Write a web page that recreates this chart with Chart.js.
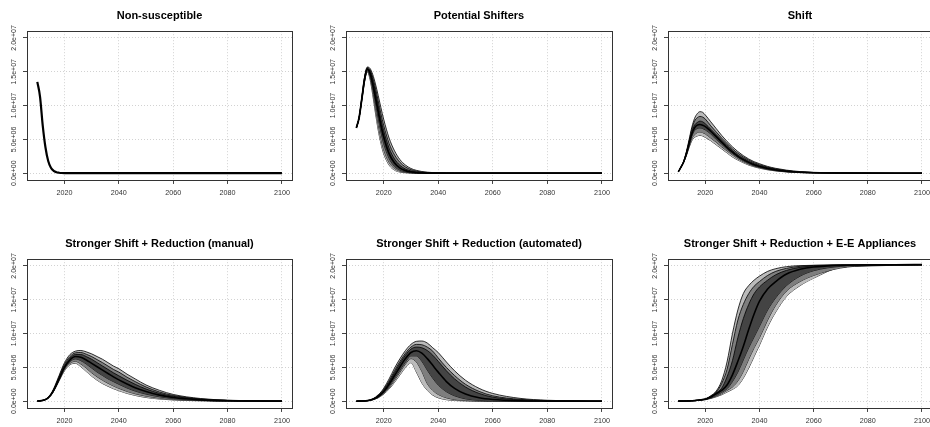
<!DOCTYPE html>
<html>
<head>
<meta charset="utf-8">
<script src="https://cdn.jsdelivr.net/npm/chart.js@4.4.0/dist/chart.umd.min.js"></script>
<style>
  html, body { margin: 0; padding: 0; background: #fff; overflow: hidden; }
  body { width: 930px; height: 427px; position: relative; }
  canvas { position: absolute; }
</style>
</head>
<body>
<canvas id="c1"></canvas>
<canvas id="c2"></canvas>
<canvas id="c3"></canvas>
<canvas id="c4"></canvas>
<canvas id="c5"></canvas>
<canvas id="c6"></canvas>
<script>
// x positions of the points (years)
const years = [2010, 2011, 2012, 2013, 2014, 2015, 2016, 2017, 2018, 2019, 2020,
  2022, 2024, 2026, 2028, 2030, 2032, 2034, 2036, 2038, 2040,
  2043, 2046, 2050, 2055, 2060, 2070, 2080, 2090, 2100];

const xTicks = [2020, 2040, 2060, 2080, 2100];
const yTicks = [0, 5e6, 1e7, 1.5e7, 2e7];
const yTickLabels = ['0.0e+00', '5.0e+06', '1.0e+07', '1.5e+07', '2.0e+07'];

const titles = ['Non-susceptible', 'Potential Shifters', 'Shift',
  'Stronger Shift + Reduction (manual)', 'Stronger Shift + Reduction (automated)',
  'Stronger Shift + Reduction + E-E Appliances'];

// all series in millions; med = median, hi/lo 1 = outer band, 2 = middle, 3 = inner

const nonSuscMed = [13.5, 11.3, 7.0, 3.8, 1.8, 0.8, 0.35, 0.15, 0.07, 0.03, 0.01,
  0, 0, 0, 0, 0, 0, 0, 0, 0, 0, 0, 0, 0, 0, 0, 0, 0, 0, 0];

const shiftersMed = [6.7, 8.2, 11.0, 13.9, 15.4, 14.8, 13.2, 11.2, 9.1, 7.1, 5.4,
  2.9, 1.5, 0.75, 0.37, 0.18, 0.09, 0.045, 0.02, 0.01, 0.005, 0, 0, 0, 0, 0, 0, 0, 0, 0];
const shiftersHi1 = [6.7, 8.2, 11.2, 14.2, 15.7, 15.5, 14.6, 13.2, 11.5, 9.7, 8.0,
  5.2, 3.3, 2.0, 1.2, 0.7, 0.42, 0.25, 0.15, 0.09, 0.05, 0.02, 0.01, 0, 0, 0, 0, 0, 0, 0];
const shiftersLo1 = [6.7, 8.2, 10.8, 13.5, 15.0, 13.9, 11.6, 8.9, 6.4, 4.4, 2.9,
  1.2, 0.45, 0.17, 0.06, 0.02, 0.01, 0, 0, 0, 0, 0, 0, 0, 0, 0, 0, 0, 0, 0];
const shiftersHi2 = [6.7, 8.2, 11.15, 14.1, 15.6, 15.3, 14.2, 12.6, 10.7, 8.8, 7.1,
  4.4, 2.7, 1.6, 0.92, 0.52, 0.3, 0.17, 0.1, 0.05, 0.03, 0.01, 0, 0, 0, 0, 0, 0, 0, 0];
const shiftersLo2 = [6.7, 8.2, 10.85, 13.6, 15.1, 14.2, 12.2, 9.6, 7.2, 5.1, 3.5,
  1.6, 0.7, 0.3, 0.12, 0.05, 0.02, 0.01, 0, 0, 0, 0, 0, 0, 0, 0, 0, 0, 0, 0];
const shiftersHi3 = [6.7, 8.2, 11.1, 14.0, 15.5, 15.1, 13.8, 12.0, 10.0, 8.0, 6.3,
  3.7, 2.1, 1.15, 0.62, 0.33, 0.18, 0.09, 0.05, 0.025, 0.01, 0, 0, 0, 0, 0, 0, 0, 0, 0];
const shiftersLo3 = [6.7, 8.2, 10.9, 13.7, 15.2, 14.5, 12.7, 10.4, 8.1, 6.1, 4.4,
  2.2, 1.0, 0.45, 0.2, 0.09, 0.04, 0.02, 0.01, 0, 0, 0, 0, 0, 0, 0, 0, 0, 0, 0];

const shiftMed = [0.2, 0.9, 1.7, 2.9, 4.4, 5.8, 6.7, 7.1, 7.2, 7.1, 6.9,
  6.2, 5.4, 4.6, 3.8, 3.1, 2.5, 2.0, 1.6, 1.25, 1.0, 0.7, 0.48, 0.28, 0.14, 0.07, 0.02, 0.005, 0, 0];
const shiftHi1 = [0.2, 0.95, 1.8, 3.2, 5.0, 6.8, 8.1, 8.8, 9.1, 9.0, 8.6,
  7.6, 6.6, 5.6, 4.7, 3.9, 3.2, 2.6, 2.1, 1.7, 1.4, 1.0, 0.72, 0.45, 0.24, 0.13, 0.04, 0.01, 0, 0];
const shiftLo1 = [0.2, 0.85, 1.6, 2.6, 3.8, 4.8, 5.3, 5.5, 5.6, 5.5, 5.3,
  4.8, 4.2, 3.6, 3.0, 2.4, 1.95, 1.55, 1.2, 0.95, 0.74, 0.5, 0.33, 0.18, 0.08, 0.04, 0.01, 0, 0, 0];
const shiftHi2 = [0.2, 0.93, 1.75, 3.1, 4.8, 6.5, 7.7, 8.2, 8.4, 8.3, 8.0,
  7.0, 6.1, 5.2, 4.4, 3.6, 2.95, 2.4, 1.95, 1.55, 1.25, 0.9, 0.63, 0.38, 0.2, 0.1, 0.03, 0.008, 0, 0];
const shiftLo2 = [0.2, 0.87, 1.63, 2.7, 4.0, 5.1, 5.7, 6.0, 6.1, 6.0, 5.8,
  5.2, 4.6, 3.9, 3.3, 2.7, 2.15, 1.7, 1.35, 1.05, 0.83, 0.57, 0.38, 0.21, 0.1, 0.05, 0.013, 0.003, 0, 0];
const shiftHi3 = [0.2, 0.91, 1.72, 3.0, 4.6, 6.1, 7.1, 7.5, 7.7, 7.6, 7.3,
  6.5, 5.7, 4.9, 4.1, 3.35, 2.7, 2.2, 1.75, 1.4, 1.12, 0.8, 0.55, 0.33, 0.17, 0.085, 0.025, 0.006, 0, 0];
const shiftLo3 = [0.2, 0.89, 1.68, 2.8, 4.2, 5.5, 6.3, 6.6, 6.7, 6.6, 6.4,
  5.8, 5.0, 4.3, 3.55, 2.9, 2.35, 1.85, 1.45, 1.15, 0.9, 0.62, 0.42, 0.24, 0.12, 0.06, 0.016, 0.004, 0, 0];

const manualMed = [0.02, 0.05, 0.12, 0.25, 0.5, 0.95, 1.6, 2.4, 3.3, 4.2, 5.0,
  6.1, 6.6, 6.5, 6.1, 5.6, 5.1, 4.6, 4.1, 3.6, 3.15, 2.55, 2.0, 1.45, 0.9, 0.55, 0.2, 0.07, 0.025, 0.01];
const manualHi1 = [0.02, 0.05, 0.13, 0.28, 0.58, 1.1, 1.85, 2.8, 3.8, 4.8, 5.7,
  6.9, 7.4, 7.5, 7.3, 7.0, 6.6, 6.2, 5.7, 5.2, 4.8, 4.0, 3.3, 2.4, 1.6, 1.0, 0.4, 0.15, 0.06, 0.02];
const manualLo1 = [0.02, 0.05, 0.11, 0.22, 0.45, 0.85, 1.45, 2.2, 3.0, 3.8, 4.5,
  5.4, 5.6, 5.1, 4.4, 3.7, 3.1, 2.6, 2.2, 1.85, 1.55, 1.15, 0.85, 0.55, 0.32, 0.18, 0.06, 0.02, 0.005, 0];
const manualHi2 = [0.02, 0.05, 0.125, 0.27, 0.55, 1.05, 1.75, 2.65, 3.6, 4.6, 5.45,
  6.6, 7.15, 7.2, 6.95, 6.6, 6.15, 5.7, 5.2, 4.7, 4.3, 3.55, 2.9, 2.1, 1.35, 0.85, 0.33, 0.12, 0.045, 0.015];
const manualLo2 = [0.02, 0.05, 0.115, 0.23, 0.47, 0.88, 1.5, 2.3, 3.1, 3.95, 4.7,
  5.6, 5.9, 5.5, 4.9, 4.2, 3.6, 3.1, 2.65, 2.25, 1.9, 1.45, 1.1, 0.75, 0.45, 0.26, 0.09, 0.03, 0.01, 0];
const manualHi3 = [0.02, 0.05, 0.12, 0.26, 0.53, 1.0, 1.68, 2.55, 3.45, 4.4, 5.2,
  6.35, 6.9, 6.9, 6.6, 6.2, 5.7, 5.2, 4.7, 4.2, 3.75, 3.1, 2.5, 1.8, 1.15, 0.72, 0.27, 0.1, 0.035, 0.012];
const manualLo3 = [0.02, 0.05, 0.118, 0.24, 0.48, 0.9, 1.55, 2.35, 3.2, 4.05, 4.85,
  5.85, 6.25, 6.0, 5.5, 4.9, 4.3, 3.8, 3.3, 2.9, 2.5, 1.95, 1.5, 1.05, 0.65, 0.38, 0.13, 0.045, 0.015, 0.005];

const autoMed = [0, 0.01, 0.02, 0.04, 0.08, 0.15, 0.27, 0.45, 0.7, 1.0, 1.4,
  2.5, 3.8, 5.1, 6.3, 7.2, 7.45, 7.1, 6.3, 5.3, 4.3, 2.9, 1.9, 1.05, 0.5, 0.25, 0.06, 0.015, 0.004, 0];
const autoHi1 = [0, 0.01, 0.025, 0.05, 0.1, 0.2, 0.35, 0.6, 0.95, 1.35, 1.9,
  3.3, 4.9, 6.3, 7.5, 8.4, 8.85, 8.9, 8.6, 7.9, 7.2, 5.8, 4.5, 3.1, 1.9, 1.15, 0.42, 0.14, 0.05, 0.02];
const autoLo1 = [0, 0.01, 0.02, 0.035, 0.06, 0.11, 0.2, 0.33, 0.5, 0.75, 1.05,
  1.8, 2.8, 3.9, 5.0, 5.7, 4.3, 2.7, 1.6, 0.9, 0.5, 0.22, 0.1, 0.04, 0.01, 0, 0, 0, 0, 0];
const autoHi2 = [0, 0.01, 0.024, 0.048, 0.095, 0.18, 0.32, 0.55, 0.88, 1.25, 1.75,
  3.0, 4.5, 5.9, 7.1, 8.0, 8.4, 8.35, 8.0, 7.4, 6.4, 5.0, 3.8, 2.5, 1.45, 0.8, 0.27, 0.09, 0.03, 0.01];
const autoLo2 = [0, 0.01, 0.02, 0.037, 0.065, 0.12, 0.22, 0.36, 0.56, 0.82, 1.15,
  2.0, 3.1, 4.3, 5.5, 6.3, 5.8, 4.4, 2.6, 1.6, 1.0, 0.5, 0.25, 0.1, 0.03, 0.01, 0, 0, 0, 0];
const autoHi3 = [0, 0.01, 0.022, 0.045, 0.09, 0.17, 0.3, 0.5, 0.8, 1.15, 1.6,
  2.8, 4.2, 5.6, 6.8, 7.7, 8.0, 7.9, 7.5, 6.8, 5.9, 4.5, 3.3, 2.1, 1.15, 0.6, 0.18, 0.055, 0.017, 0.005];
const autoLo3 = [0, 0.01, 0.02, 0.038, 0.07, 0.13, 0.24, 0.4, 0.62, 0.9, 1.25,
  2.2, 3.4, 4.6, 5.8, 6.7, 6.7, 5.9, 4.6, 3.4, 2.4, 1.4, 0.8, 0.35, 0.12, 0.05, 0.012, 0.003, 0, 0];

const eeMed = [0.01, 0.015, 0.02, 0.03, 0.045, 0.065, 0.09, 0.13, 0.17, 0.23, 0.3,
  0.6, 1.1, 1.6, 2.4, 3.9, 5.9, 8.1, 10.6, 12.9, 14.8, 16.6, 17.7, 18.8, 19.5, 19.85, 20.1, 20.15, 20.18, 20.2];
const eeHi1 = [0.01, 0.015, 0.022, 0.033, 0.05, 0.072, 0.1, 0.15, 0.2, 0.27, 0.35,
  0.8, 1.5, 3.0, 5.8, 10.0, 13.5, 15.9, 17.1, 17.9, 18.5, 19.2, 19.6, 19.9, 20.05, 20.1, 20.15, 20.17, 20.18, 20.2];
const eeLo1 = [0.01, 0.013, 0.018, 0.026, 0.038, 0.055, 0.075, 0.11, 0.15, 0.19, 0.25,
  0.4, 0.65, 0.95, 1.35, 1.75, 2.3, 3.4, 4.9, 6.6, 8.3, 11.0, 13.2, 15.5, 17.1, 18.2, 19.8, 20.0, 20.1, 20.15];
const eeHi2 = [0.01, 0.015, 0.021, 0.032, 0.048, 0.07, 0.095, 0.14, 0.19, 0.25, 0.33,
  0.75, 1.35, 2.6, 4.7, 8.4, 12.0, 14.3, 15.9, 17.0, 17.7, 18.6, 19.2, 19.65, 19.95, 20.08, 20.15, 20.17, 20.18, 20.2];
const eeLo2 = [0.01, 0.014, 0.019, 0.027, 0.04, 0.058, 0.08, 0.115, 0.155, 0.2, 0.26,
  0.45, 0.75, 1.1, 1.6, 2.1, 3.0, 4.4, 6.2, 7.9, 9.4, 12.0, 14.2, 16.3, 17.7, 18.6, 19.7, 20.05, 20.12, 20.16];
const eeHi3 = [0.01, 0.015, 0.02, 0.031, 0.046, 0.067, 0.092, 0.135, 0.18, 0.24, 0.32,
  0.7, 1.25, 1.9, 3.6, 6.0, 9.4, 12.2, 14.3, 15.9, 16.9, 17.9, 18.7, 19.35, 19.8, 20.0, 20.13, 20.16, 20.18, 20.2];
const eeLo3 = [0.01, 0.014, 0.019, 0.028, 0.042, 0.06, 0.085, 0.12, 0.16, 0.21, 0.28,
  0.5, 0.85, 1.3, 1.85, 2.9, 4.3, 6.1, 7.9, 9.5, 11.1, 13.5, 15.3, 17.1, 18.5, 19.3, 19.95, 20.1, 20.15, 20.18];

const bandColors = ['#bbbbbb', '#7e7e7e', '#444444'];

function points(arr) {
  return years.map((yr, i) => ({ x: yr, y: arr[i] * 1e6 }));
}

function lineSet(arr, width, fillColor) {
  return {
    data: points(arr),
    borderColor: '#000',
    borderWidth: width,
    backgroundColor: fillColor || 'transparent',
    fill: fillColor ? '+1' : false,
    pointRadius: 0,
    cubicInterpolationMode: 'monotone'
  };
}

// dataset 0 is drawn last, so the median goes first and the outer band last
function buildDatasets(med, bands, medWidth) {
  const sets = [lineSet(med, medWidth)];
  if (bands) {
    for (let k = bands.length - 1; k >= 0; k--) {
      sets.push(lineSet(bands[k][0], 0.8, bandColors[k]));
      sets.push(lineSet(bands[k][1], 0.8));
    }
  }
  return sets;
}

const boxAndLabels = {
  id: 'boxAndLabels',
  afterDatasetsDraw(chart) {
    const { ctx, chartArea: a } = chart;
    ctx.save();
    ctx.strokeStyle = '#333';
    ctx.lineWidth = 1;
    ctx.strokeRect(Math.round(a.left) + 0.5, Math.round(a.top) + 0.5,
      Math.round(a.right - a.left), Math.round(a.bottom - a.top));
    ctx.restore();
  },
  afterDraw(chart) {
    const { ctx, chartArea: a, scales } = chart;
    ctx.save();
    ctx.fillStyle = '#333';
    ctx.font = '7px "Liberation Sans", Arial, sans-serif';
    ctx.textAlign = 'center';
    ctx.textBaseline = 'middle';
    yTicks.forEach((v, i) => {
      ctx.save();
      ctx.translate(a.left - 13, scales.y.getPixelForValue(v));
      ctx.rotate(-Math.PI / 2);
      ctx.fillText(yTickLabels[i], 0, 0);
      ctx.restore();
    });
    ctx.restore();
  }
};

const panels = [
  { id: 'c1', left: 0, top: 0, w: 310, h: 214, pad: { left: 23, right: 18, top: 0, bottom: 11.4 },
    med: nonSuscMed, bands: null, medWidth: 2.2 },
  { id: 'c2', left: 310, top: 0, w: 310, h: 214, pad: { left: 32, right: 8, top: 0, bottom: 11.4 },
    med: shiftersMed, bands: [[shiftersHi1, shiftersLo1], [shiftersHi2, shiftersLo2], [shiftersHi3, shiftersLo3]], medWidth: 1.8 },
  { id: 'c3', left: 620, top: 0, w: 320, h: 214, pad: { left: 44, right: 8, top: 0, bottom: 11.4 },
    med: shiftMed, bands: [[shiftHi1, shiftLo1], [shiftHi2, shiftLo2], [shiftHi3, shiftLo3]], medWidth: 1.6 },
  { id: 'c4', left: 0, top: 214, w: 310, h: 220, pad: { left: 23, right: 18, top: 14, bottom: 3.4 },
    med: manualMed, bands: [[manualHi1, manualLo1], [manualHi2, manualLo2], [manualHi3, manualLo3]], medWidth: 1.6 },
  { id: 'c5', left: 310, top: 214, w: 310, h: 220, pad: { left: 32, right: 8, top: 14, bottom: 3.4 },
    med: autoMed, bands: [[autoHi1, autoLo1], [autoHi2, autoLo2], [autoHi3, autoLo3]], medWidth: 1.6 },
  { id: 'c6', left: 620, top: 214, w: 320, h: 220, pad: { left: 44, right: 8, top: 14, bottom: 3.4 },
    med: eeMed, bands: [[eeHi1, eeLo1], [eeHi2, eeLo2], [eeHi3, eeLo3]], medWidth: 1.6 }
];

const gridOpts = {
  color: '#d2d2d2',
  borderDash: [1, 2],
  drawTicks: true,
  tickLength: 4,
  tickColor: '#444',
  tickBorderDash: [],
  tickWidth: 1
};

panels.forEach((p, idx) => {
  const canvas = document.getElementById(p.id);
  canvas.width = p.w;
  canvas.height = p.h;
  canvas.style.left = p.left + 'px';
  canvas.style.top = p.top + 'px';

  new Chart(canvas.getContext('2d'), {
    type: 'line',
    data: { datasets: buildDatasets(p.med, p.bands, p.medWidth) },
    options: {
      responsive: false,
      animation: false,
      devicePixelRatio: 1,
      layout: { padding: p.pad },
      plugins: {
        legend: { display: false },
        tooltip: { enabled: false },
        title: {
          display: true,
          text: titles[idx],
          fullSize: false,
          color: '#000',
          font: { family: '"Liberation Sans", Arial, sans-serif', size: 11, weight: 'bold' },
          padding: { top: 9, bottom: 9 }
        }
      },
      scales: {
        x: {
          type: 'linear',
          min: 2006.2,
          max: 2103.7,
          afterBuildTicks: s => { s.ticks = xTicks.map(v => ({ value: v })); },
          grid: gridOpts,
          border: { display: false, dash: [1, 2] },
          ticks: {
            color: '#333',
            padding: 5,
            maxRotation: 0,
            font: { family: '"Liberation Sans", Arial, sans-serif', size: 7.2 },
            callback: v => String(v)
          }
        },
        y: {
          type: 'linear',
          min: -1e6,
          max: 2.1e7,
          afterBuildTicks: s => { s.ticks = yTicks.map(v => ({ value: v })); },
          grid: gridOpts,
          border: { display: false, dash: [1, 2] },
          ticks: { display: false }
        }
      }
    },
    plugins: [boxAndLabels]
  });
});
</script>
</body>
</html>
